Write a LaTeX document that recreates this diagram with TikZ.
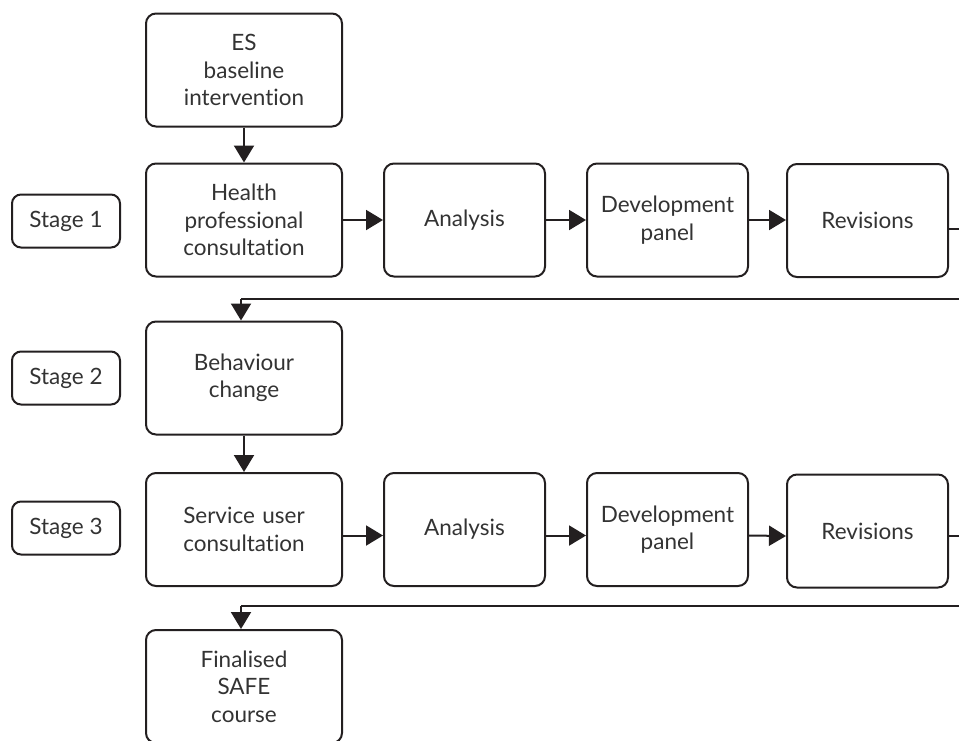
\documentclass[tikz,border=0pt]{standalone}
\usepackage{fontspec}
\setmainfont{Lato}[Ligatures=NoCommon]
\usetikzlibrary{arrows.meta}
\definecolor{ink}{HTML}{231F20}
\definecolor{txt}{HTML}{333333}
\begin{document}
\begin{tikzpicture}[x=1pt,y=-1pt,
  box/.style={draw=ink,line width=2pt,rounded corners=10pt,minimum height=113pt,
    align=center,text=txt,font=\fontsize{22.5}{27.5}\selectfont,inner sep=2pt},
  wide/.style={box,minimum width=196pt,text width=190pt},
  narrow/.style={box,minimum width=161pt,text width=155pt},
  stagebox/.style={draw=ink,line width=2pt,rounded corners=9pt,minimum width=108pt,
    minimum height=53pt,text=txt,font=\fontsize{22.5}{27.5}\selectfont},
  conn/.style={draw=ink,line width=2pt,-{Triangle[length=17pt,width=20pt]}},
  plain/.style={draw=ink,line width=2pt}]
\useasboundingbox (0,0) rectangle (959,740);
\clip (0,0) rectangle (959,740);
% main column
\node[wide] (es) at (244,70) {ES\\baseline\\intervention};
\node[wide] (hp) at (244,220) {Health\\professional\\consultation};
\node[narrow] (an1) at (464.5,220) {Analysis};
\node[narrow] (dp1) at (667.5,220) {Development\\panel};
\node[narrow] (rv1) at (867.5,220.5) {Revisions};
\node[wide] (bc) at (244,378) {Behaviour\\change};
\node[wide] (su) at (244,529.5) {Service user\\consultation};
\node[narrow] (an3) at (464.5,529.5) {Analysis};
\node[narrow] (dp3) at (667.5,529.5) {Development\\panel};
\node[narrow] (rv3) at (867.5,531) {Revisions};
\node[wide] (fs) at (244,686.5) {Finalised\\SAFE\\course};
% stages
\node[stagebox] (s1) at (66,221) {Stage 1};
\node[stagebox] (s2) at (66,378) {Stage 2};
\node[stagebox] (s3) at (66,528) {Stage 3};
% connectors
\coordinate (r1a) at (975,229);
\coordinate (r1b) at (975,299);
\coordinate (r1c) at (241,299);
\coordinate (r3a) at (975,536);
\coordinate (r3b) at (975,606);
\coordinate (r3c) at (241,606);
\draw[conn] (es.south) -- (hp.north);
\draw[conn] (hp.east) -- (an1.west);
\draw[conn] (an1.east) -- (dp1.west);
\draw[conn] (dp1.east) -- (rv1.west |- dp1.east);
\draw[plain] (rv1.east |- r1a) -- (r1a) -- (r1b) -- (r1c);
\draw[conn] (r1c) -- (r1c |- bc.north);
\draw[conn] (bc.south) -- (su.north);
\draw[conn] ([yshift=-6pt]su.east) -- ([yshift=-6pt]an3.west);
\draw[conn] ([yshift=-6pt]an3.east) -- ([yshift=-6pt]dp3.west);
\draw[conn] ([yshift=-6pt]dp3.east) -- (rv3.west |- r3a);
\draw[plain] (rv3.east |- r3a) -- (r3a) -- (r3b) -- (r3c);
\draw[conn] (r3c) -- (r3c |- fs.north);
\end{tikzpicture}
\end{document}
